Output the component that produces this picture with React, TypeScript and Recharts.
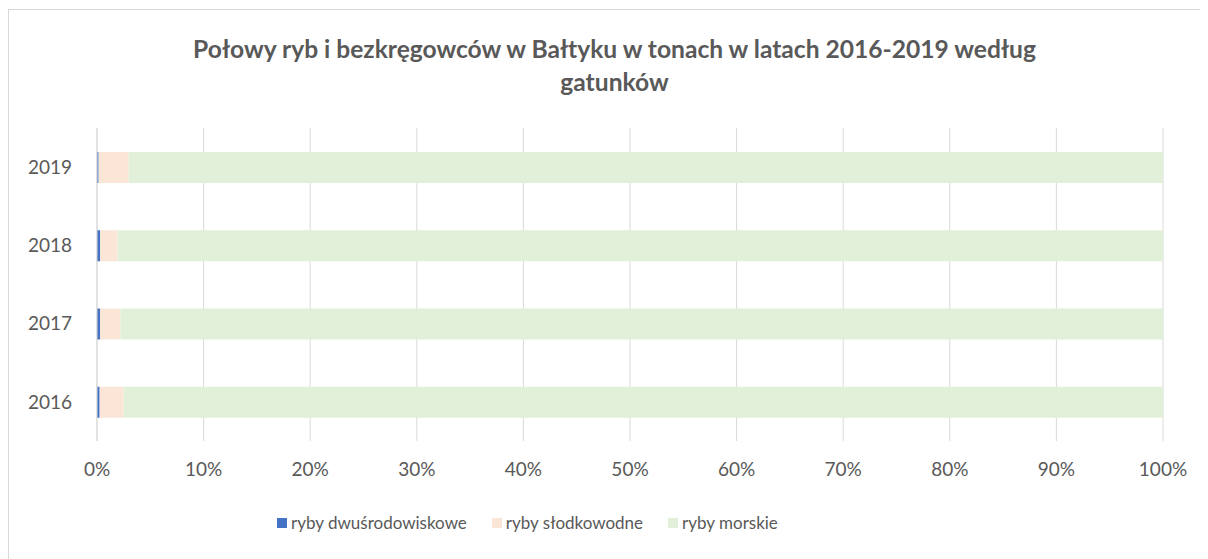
import React from 'react';
import { BarChart, Bar, XAxis, YAxis, CartesianGrid, Legend } from 'recharts';

const years = ['2016', '2017', '2018', '2019'];
const dwusrodowiskowe = [0.25, 0.28, 0.3, 0.15];
const slodkowodne = [2.25, 1.92, 1.63, 2.82];
const morskie = [97.5, 97.8, 98.07, 97.03];
const xTicks = [0, 10, 20, 30, 40, 50, 60, 70, 80, 90, 100];

const seriesNames = ['ryby dwuśrodowiskowe', 'ryby słodkowodne', 'ryby morskie'];
const seriesColors = ['#4472C4', '#FBE5D6', '#E2F0D9'];

const data = years.map((y, i) => ({
  year: y,
  a: dwusrodowiskowe[i],
  b: slodkowodne[i],
  c: morskie[i],
}));

const FONT = 'Lato, "Open Sans", sans-serif';
const TEXT = '#595959';

const renderLegend = () => (
  <div style={{ display: 'flex', justifyContent: 'flex-start', paddingLeft: 268, gap: 25, fontFamily: FONT, fontSize: 17, color: TEXT, lineHeight: '22px' }}>
    {seriesNames.map((n, i) => (
      <div key={n} style={{ display: 'flex', alignItems: 'center' }}>
        <span style={{ display: 'inline-block', width: 10, height: 10, background: seriesColors[i], marginRight: 4 }} />
        <span>{n}</span>
      </div>
    ))}
  </div>
);

export default function App() {
  return (
    <div style={{ position: 'relative', width: 1220, height: 560, border: '1px solid #D9D9D9', marginTop: 1, boxSizing: 'border-box', background: '#fff' }}>
      <div style={{ position: 'absolute', left: 0, top: 22, width: 1211, textAlign: 'center', fontFamily: FONT, fontWeight: 700, fontSize: 24.6, color: TEXT, lineHeight: '33px' }}>
        Połowy ryb i bezkręgowców w Bałtyku w tonach w latach 2016-2019 według
        <br />
        gatunków
      </div>
      <div style={{ position: 'absolute', left: 0, top: 0 }}>
        <BarChart
          width={1200}
          height={546}
          data={data}
          layout="vertical"
          barSize={31}
          margin={{ top: 118, right: 46, bottom: 0, left: 0 }}
        >
          <CartesianGrid horizontal={false} stroke="#D9D9D9" />
          <XAxis
            type="number"
            domain={[0, 100]}
            ticks={xTicks}
            tickFormatter={(v) => `${v}%`}
            axisLine={false}
            tickLine={false}
            tick={{ fill: TEXT, fontSize: 19, fontFamily: FONT }}
            tickMargin={16}
            height={45}
            interval={0}
          />
          <YAxis
            type="category"
            dataKey="year"
            reversed
            width={88}
            axisLine={{ stroke: '#D9D9D9' }}
            tickLine={false}
            tick={{ fill: TEXT, fontSize: 19, fontFamily: FONT }}
            tickMargin={19}
          />
          <Legend content={renderLegend} verticalAlign="bottom" height={70} wrapperStyle={{ top: 502, left: 0, width: 1200 }} />
          <Bar dataKey="a" name={seriesNames[0]} stackId="s" fill={seriesColors[0]} isAnimationActive={false} />
          <Bar dataKey="b" name={seriesNames[1]} stackId="s" fill={seriesColors[1]} isAnimationActive={false} />
          <Bar dataKey="c" name={seriesNames[2]} stackId="s" fill={seriesColors[2]} isAnimationActive={false} />
        </BarChart>
      </div>
    </div>
  );
}
